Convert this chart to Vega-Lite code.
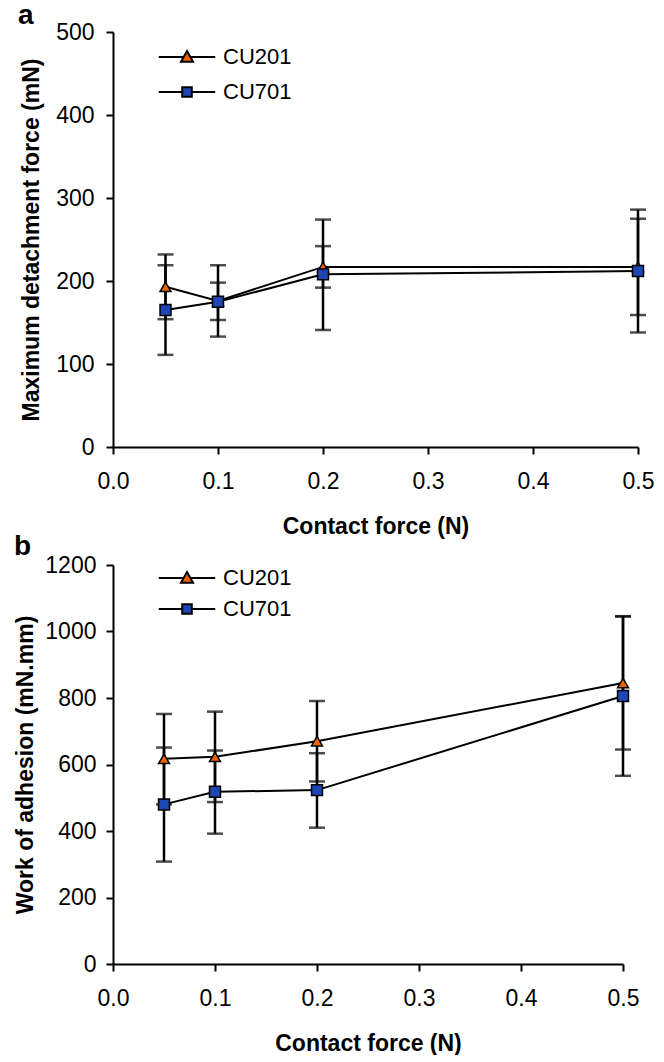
{
  "$schema": "https://vega.github.io/schema/vega-lite/v6.json",
  "background": "white",
  "padding": {"left": 14, "top": 2, "right": 0, "bottom": 0},
  "config": {
    "view": {"stroke": null},
    "font": "Liberation Sans",
    "axis": {"domainColor": "black", "domainWidth": 2, "tickColor": "black", "tickWidth": 2, "tickSize": 7, "labelFont": "Liberation Sans", "labelFontSize": 23, "labelColor": "black", "titleFont": "Liberation Sans", "titleFontSize": 23, "titleFontWeight": "bold", "titleColor": "black", "grid": false, "labelFlush": false, "labelOverlap": false},
    "axisX": {"labelPadding": 16, "titlePadding": 22},
    "axisY": {"labelPadding": 12, "titlePadding": 12},
    "legend": {"padding": 0, "labelFont": "Liberation Sans", "labelColor": "black", "labelFontSize": 22, "title": null, "symbolSize": 144, "symbolStrokeWidth": 2, "labelOffset": 25, "orient": "none"},
    "title": {"font": "Liberation Sans", "fontSize": 28, "fontWeight": "bold", "color": "black", "anchor": "start", "frame": "group"}
  },
  "datasets": {
    "a": [
      {"series": "CU201", "force": 0.05, "mean": 193, "lo": 154, "hi": 232},
      {"series": "CU201", "force": 0.1, "mean": 176, "lo": 153, "hi": 198},
      {"series": "CU201", "force": 0.2, "mean": 217, "lo": 192, "hi": 242},
      {"series": "CU201", "force": 0.5, "mean": 217, "lo": 159, "hi": 275},
      {"series": "CU701", "force": 0.05, "mean": 165, "lo": 111, "hi": 219},
      {"series": "CU701", "force": 0.1, "mean": 175, "lo": 133, "hi": 219},
      {"series": "CU701", "force": 0.2, "mean": 208, "lo": 141, "hi": 274},
      {"series": "CU701", "force": 0.5, "mean": 212, "lo": 138, "hi": 286}
    ],
    "b": [
      {"series": "CU201", "force": 0.05, "mean": 617, "lo": 480, "hi": 752},
      {"series": "CU201", "force": 0.1, "mean": 623, "lo": 487, "hi": 759},
      {"series": "CU201", "force": 0.2, "mean": 670, "lo": 549, "hi": 791},
      {"series": "CU201", "force": 0.5, "mean": 845, "lo": 645, "hi": 1045},
      {"series": "CU701", "force": 0.05, "mean": 480, "lo": 308, "hi": 651},
      {"series": "CU701", "force": 0.1, "mean": 518, "lo": 392, "hi": 642},
      {"series": "CU701", "force": 0.2, "mean": 523, "lo": 410, "hi": 634},
      {"series": "CU701", "force": 0.5, "mean": 806, "lo": 566, "hi": 1046}
    ]
  },
  "spacing": 118,
  "bounds": "flush",
  "resolve": {"scale": {"x": "independent", "y": "independent", "shape": "independent", "fill": "independent", "stroke": "independent"}, "legend": {"shape": "independent", "fill": "independent", "stroke": "independent"}},
  "vconcat": [
    {
      "width": 525,
      "height": 415,
      "title": {"text": "a", "dx": -95, "dy": 9, "offset": 0},
      "data": {"name": "a"},
      "encoding": {
        "x": {"field": "force", "type": "quantitative", "scale": {"domain": [0, 0.5], "nice": false}, "axis": {"values": [0, 0.1, 0.2, 0.3, 0.4, 0.5], "format": ".1f", "title": "Contact force (N)"}}
      },
      "layer": [
        {"mark": {"type": "rule", "strokeWidth": 2.5, "color": "black"}, "encoding": {"y": {"field": "lo", "type": "quantitative", "scale": {"domain": [0, 500], "nice": false}, "axis": {"values": [0, 100, 200, 300, 400, 500], "format": "d", "title": "Maximum detachment force (mN)"}}, "y2": {"field": "hi"}}},
        {"mark": {"type": "tick", "orient": "horizontal", "size": 16, "thickness": 2.5, "color": "black"}, "encoding": {"y": {"field": "lo", "type": "quantitative"}}},
        {"mark": {"type": "tick", "orient": "horizontal", "size": 16, "thickness": 2.5, "color": "black"}, "encoding": {"y": {"field": "hi", "type": "quantitative"}}},
        {"mark": {"type": "line", "color": "black", "strokeWidth": 2}, "encoding": {"y": {"field": "mean", "type": "quantitative"}, "detail": {"field": "series", "type": "nominal"}}},
        {"mark": {"type": "point", "filled": true, "opacity": 1, "stroke": "black", "strokeWidth": 1.5, "size": 120}, "encoding": {"y": {"field": "mean", "type": "quantitative"}, "shape": {"field": "series", "type": "nominal", "scale": {"domain": ["CU201", "CU701"], "range": ["triangle-up", "square"]}, "legend": null}, "fill": {"field": "series", "type": "nominal", "scale": {"domain": ["CU201", "CU701"], "range": ["#F06400", "#1E46B4"]}, "legend": null}}},
        {"transform": [{"filter": "datum.force < 0"}], "mark": {"type": "point", "filled": true, "opacity": 1, "color": "#F06400", "shape": "M-4.7,0H-0.56M0.56,0H4.7M0,-1L1,0.8L-1,0.8Z", "strokeWidth": 2}, "encoding": {"y": {"field": "mean", "type": "quantitative"},
          "stroke": {"field": "series", "type": "nominal", "scale": {"domain": ["CU201"], "range": ["black"]}, "legend": {"legendX": 63, "legendY": 14}}}},
        {"transform": [{"filter": "datum.force < 0"}], "mark": {"type": "point", "filled": true, "opacity": 1, "color": "#1E46B4", "shape": "M-4.7,0H-0.8M0.8,0H4.7M-0.8,-0.8H0.8V0.8H-0.8Z", "strokeWidth": 2}, "encoding": {"y": {"field": "mean", "type": "quantitative"},
          "stroke": {"field": "series", "type": "nominal", "scale": {"domain": ["CU701"], "range": ["black"]}, "legend": {"legendX": 63, "legendY": 49}}}}
      ],
      "resolve": {"scale": {"shape": "independent", "fill": "independent", "stroke": "independent"}, "legend": {"stroke": "independent"}}
    },
    {
      "width": 510,
      "height": 399,
      "title": {"text": "b", "dx": -99, "dy": 7, "offset": 0},
      "data": {"name": "b"},
      "encoding": {
        "x": {"field": "force", "type": "quantitative", "scale": {"domain": [0, 0.5], "nice": false}, "axis": {"values": [0, 0.1, 0.2, 0.3, 0.4, 0.5], "format": ".1f", "title": "Contact force (N)"}}
      },
      "layer": [
        {"mark": {"type": "rule", "strokeWidth": 2.5, "color": "black"}, "encoding": {"y": {"field": "lo", "type": "quantitative", "scale": {"domain": [0, 1200], "nice": false}, "axis": {"values": [0, 200, 400, 600, 800, 1000, 1200], "format": "d", "title": "Work of adhesion (mN.mm)", "labelPadding": 10, "titlePadding": 7}}, "y2": {"field": "hi"}}},
        {"mark": {"type": "tick", "orient": "horizontal", "size": 16, "thickness": 2.5, "color": "black"}, "encoding": {"y": {"field": "lo", "type": "quantitative"}}},
        {"mark": {"type": "tick", "orient": "horizontal", "size": 16, "thickness": 2.5, "color": "black"}, "encoding": {"y": {"field": "hi", "type": "quantitative"}}},
        {"mark": {"type": "line", "color": "black", "strokeWidth": 2}, "encoding": {"y": {"field": "mean", "type": "quantitative"}, "detail": {"field": "series", "type": "nominal"}}},
        {"mark": {"type": "point", "filled": true, "opacity": 1, "stroke": "black", "strokeWidth": 1.5, "size": 120}, "encoding": {"y": {"field": "mean", "type": "quantitative"}, "shape": {"field": "series", "type": "nominal", "scale": {"domain": ["CU201", "CU701"], "range": ["triangle-up", "square"]}, "legend": null}, "fill": {"field": "series", "type": "nominal", "scale": {"domain": ["CU201", "CU701"], "range": ["#F06400", "#1E46B4"]}, "legend": null}}},
        {"transform": [{"filter": "datum.force < 0"}], "mark": {"type": "point", "filled": true, "opacity": 1, "color": "#F06400", "shape": "M-4.7,0H-0.56M0.56,0H4.7M0,-1L1,0.8L-1,0.8Z", "strokeWidth": 2}, "encoding": {"y": {"field": "mean", "type": "quantitative"},
          "stroke": {"field": "series", "type": "nominal", "scale": {"domain": ["CU201"], "range": ["black"]}, "legend": {"legendX": 63, "legendY": 2}}}},
        {"transform": [{"filter": "datum.force < 0"}], "mark": {"type": "point", "filled": true, "opacity": 1, "color": "#1E46B4", "shape": "M-4.7,0H-0.8M0.8,0H4.7M-0.8,-0.8H0.8V0.8H-0.8Z", "strokeWidth": 2}, "encoding": {"y": {"field": "mean", "type": "quantitative"},
          "stroke": {"field": "series", "type": "nominal", "scale": {"domain": ["CU701"], "range": ["black"]}, "legend": {"legendX": 63, "legendY": 33}}}}
      ],
      "resolve": {"scale": {"shape": "independent", "fill": "independent", "stroke": "independent"}, "legend": {"stroke": "independent"}}
    }
  ]
}
